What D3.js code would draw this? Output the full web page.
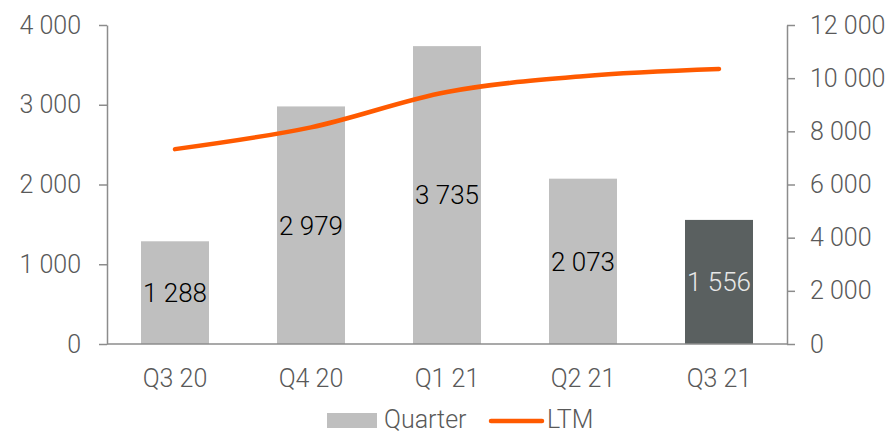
<html>
<head>
<style>
body { margin: 0; background: #fff; font-family: Roboto, "Noto Sans", sans-serif; }
.axis text { font-family: Roboto, sans-serif; font-weight: 300; font-size: 25px; fill: #595959; }
.axis path, .axis line { stroke: #8c8c8c; stroke-width: 1.5px; }
.lbl { font-family: Roboto, sans-serif; font-weight: 300; font-size: 26px; }
.legend text { font-family: Roboto, sans-serif; font-weight: 300; font-size: 25px; fill: #595959; }
</style>
</head>
<body>
<div class="chart"></div>
<script src="https://d3js.org/d3.v7.min.js"></script>
<script>
var quarters = ["Q3 20", "Q4 20", "Q1 21", "Q2 21", "Q3 21"];
var quarterValues = [1288, 2979, 3735, 2073, 1556];
var ltmValues = [7330, 8150, 9480, 10075, 10343];
var leftTicks = [0, 1000, 2000, 3000, 4000];
var rightTicks = [0, 2000, 4000, 6000, 8000, 10000, 12000];

var W = 895, H = 433;
var margin = {top: 25, right: 108, bottom: 89, left: 107},
    width = W - margin.left - margin.right,
    height = H - margin.top - margin.bottom;

var svg = d3.select(".chart").append("svg")
    .attr("width", W)
    .attr("height", H)
  .append("g")
    .attr("transform", "translate(" + margin.left + "," + margin.top + ")");

var x = d3.scaleBand().domain(quarters).range([0, width]).paddingInner(0.5).paddingOuter(0.25);
var yL = d3.scaleLinear().domain([0, 4000]).range([height, 0]);
var yR = d3.scaleLinear().domain([0, 12000]).range([height, 0]);

var fmt = function(v){ return d3.format(",")(v).replace(/,/g, " "); };

// bars
svg.selectAll(".bar")
    .data(quarterValues)
  .enter().append("rect")
    .attr("class", "bar")
    .attr("x", function(d, i){ return x(quarters[i]); })
    .attr("width", x.bandwidth())
    .attr("y", function(d){ return yL(d); })
    .attr("height", function(d){ return height - yL(d); })
    .attr("fill", function(d, i){ return i === quarters.length - 1 ? "#5a6060" : "#bfbfbf"; });

// bar labels
svg.selectAll(".lbl")
    .data(quarterValues)
  .enter().append("text")
    .attr("class", "lbl")
    .attr("x", function(d, i){ return x(quarters[i]) + x.bandwidth() / 2; })
    .attr("y", function(d){ return (yL(d) + height) / 2; })
    .attr("dy", "0.36em")
    .attr("text-anchor", "middle")
    .attr("fill", function(d, i){ return i === quarters.length - 1 ? "#e8e8e8" : "#000"; })
    .text(fmt);

// axes
svg.append("g")
    .attr("class", "axis")
    .call(d3.axisLeft(yL).tickValues(leftTicks).tickFormat(fmt).tickSizeOuter(0).tickSizeInner(8).tickPadding(18));

svg.append("g")
    .attr("class", "axis")
    .attr("transform", "translate(" + width + ",0)")
    .call(d3.axisRight(yR).tickValues(rightTicks).tickFormat(fmt).tickSizeOuter(0).tickSizeInner(8).tickPadding(15));

var xa = svg.append("g")
    .attr("class", "axis")
    .attr("transform", "translate(0," + height + ")")
    .call(d3.axisBottom(x).tickSize(0).tickPadding(25));
xa.select(".domain").attr("d", "M0,0H" + width);

// LTM line
var line = d3.line()
    .x(function(d, i){ return x(quarters[i]) + x.bandwidth() / 2; })
    .y(function(d){ return yR(d); })
    .curve(d3.curveCatmullRom.alpha(0.5));

svg.append("path")
    .datum(ltmValues)
    .attr("fill", "none")
    .attr("stroke", "#ff5a00")
    .attr("stroke-width", 4.5)
    .attr("stroke-linecap", "round")
    .attr("d", line);

// legend
var lg = d3.select("svg").append("g").attr("class", "legend");
lg.append("rect").attr("x", 327).attr("y", 413).attr("width", 50).attr("height", 15).attr("fill", "#bfbfbf");
lg.append("text").attr("x", 384).attr("y", 428).text("Quarter");
lg.append("line").attr("x1", 491).attr("x2", 542).attr("y1", 421).attr("y2", 421)
    .attr("stroke", "#ff5a00").attr("stroke-width", 4.5).attr("stroke-linecap", "round");
lg.append("text").attr("x", 547).attr("y", 428).text("LTM");
</script>
</body>
</html>
